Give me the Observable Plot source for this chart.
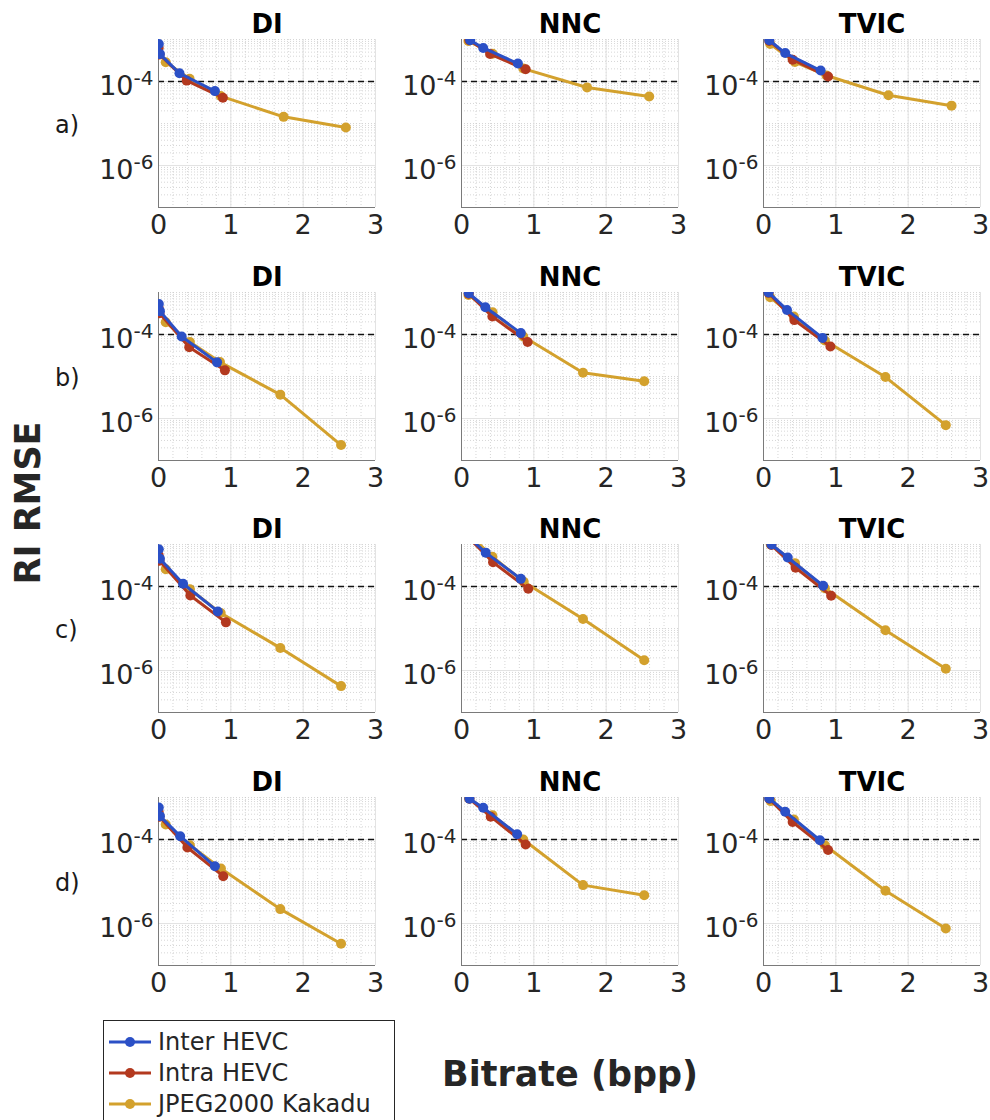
<!DOCTYPE html>
<html>
<head>
<meta charset="utf-8">
<script src="https://cdn.jsdelivr.net/npm/d3@7"></script>
<script src="https://cdn.jsdelivr.net/npm/@observablehq/plot@0.6"></script>
<style>
  html, body { margin: 0; padding: 0; background: #fff; }
  #root { position: relative; width: 990px; height: 1120px; overflow: hidden; background: #fff; font-family: "DejaVu Sans", sans-serif; }
  .panel { position: absolute; }
  .rowlab { position: absolute; font-size: 24px; color: #1a1a1a; transform: translateY(-50%); }
  .ylab { position: absolute; font-weight: bold; font-size: 35px; color: #262626; white-space: nowrap; transform-origin: center; }
  .xlab { position: absolute; font-weight: bold; font-size: 35px; color: #262626; white-space: nowrap; }
  #legend { position: absolute; left: 103px; top: 1020px; width: 290px; height: 120px; border: 1px solid #262626; background: #fff; }
  .legrow { position: absolute; left: 0; height: 30px; display: flex; align-items: center; font-size: 24px; color: #262626; white-space: nowrap; }
</style>
</head>
<body>
<div id="root"></div>
<script>
// ---------------- data ----------------
const rowLabels = ["a)", "b)", "c)", "d)"];
const methods = ["DI", "NNC", "TVIC"];
const seriesNames = ["Inter HEVC", "Intra HEVC", "JPEG2000 Kakadu"];
const xTicks = [0, 1, 2, 3];
const yLabelTicks = [1e-6, 1e-4];
const threshold = 1e-4;

// panels in row-major order: a-DI, a-NNC, a-TVIC, b-DI, ... ; each [bitrate (bpp), RI RMSE]
const interHEVC = [
  [[0.004, 7.8e-4], [0.02, 4.5e-4], [0.29, 1.57e-4], [0.78, 5.9e-5]],
  [[0.12, 9.6e-4], [0.30, 6.3e-4], [0.78, 2.67e-4]],
  [[0.08, 9.6e-4], [0.30, 4.75e-4], [0.79, 1.82e-4]],
  [[0.004, 5.3e-4], [0.02, 3.6e-4], [0.32, 9.0e-5], [0.81, 2.17e-5]],
  [[0.10, 9.6e-4], [0.33, 4.45e-4], [0.82, 1.08e-4]],
  [[0.07, 1.0e-3], [0.325, 3.85e-4], [0.815, 8.3e-5]],
  [[0.004, 7.7e-4], [0.02, 4.6e-4], [0.34, 1.16e-4], [0.82, 2.55e-5]],
  [[0.10, 1.5e-3], [0.335, 6.4e-4], [0.82, 1.52e-4]],
  [[0.11, 1.0e-3], [0.335, 4.9e-4], [0.825, 1.04e-4]],
  [[0.004, 5.8e-4], [0.02, 3.6e-4], [0.30, 1.2e-4], [0.78, 2.3e-5]],
  [[0.11, 9.4e-4], [0.30, 5.7e-4], [0.77, 1.34e-4]],
  [[0.08, 9.5e-4], [0.30, 4.6e-4], [0.78, 9.6e-5]]
];
const intraHEVC = [
  [[0.003, 6.3e-4], [0.015, 4.4e-4], [0.39, 1.05e-4], [0.89, 4.1e-5]],
  [[0.11, 9.6e-4], [0.395, 4.5e-4], [0.887, 1.95e-4]],
  [[0.08, 9.2e-4], [0.403, 3.3e-4], [0.893, 1.31e-4]],
  [[0.003, 4.2e-4], [0.014, 3.2e-4], [0.425, 5.0e-5], [0.918, 1.4e-5]],
  [[0.10, 9.4e-4], [0.427, 2.67e-4], [0.914, 6.6e-5]],
  [[0.07, 9.8e-4], [0.426, 2.2e-4], [0.925, 5.2e-5]],
  [[0.003, 5.5e-4], [0.014, 4.1e-4], [0.44, 6.1e-5], [0.932, 1.4e-5]],
  [[0.10, 1.45e-3], [0.436, 3.78e-4], [0.923, 8.8e-5]],
  [[0.11, 9.7e-4], [0.444, 2.8e-4], [0.935, 6.0e-5]],
  [[0.003, 4.5e-4], [0.014, 3.5e-4], [0.40, 6.45e-5], [0.895, 1.34e-5]],
  [[0.11, 9.3e-4], [0.404, 3.5e-4], [0.887, 7.6e-5]],
  [[0.08, 9.3e-4], [0.403, 2.6e-4], [0.893, 5.6e-5]]
];
const jpeg2000 = [
  [[0.10, 2.86e-4], [0.43, 1.16e-4], [0.86, 4.5e-5], [1.73, 1.44e-5], [2.59, 8.0e-6]],
  [[0.096, 9.2e-4], [0.43, 4.6e-4], [0.854, 2.03e-4], [1.736, 7.2e-5], [2.595, 4.4e-5]],
  [[0.092, 7.8e-4], [0.435, 2.9e-4], [0.87, 1.39e-4], [1.727, 4.7e-5], [2.60, 2.66e-5]],
  [[0.10, 1.96e-4], [0.434, 6.6e-5], [0.85, 2.2e-5], [1.684, 3.7e-6], [2.524, 2.33e-7]],
  [[0.096, 8.7e-4], [0.43, 3.4e-4], [0.854, 9.0e-5], [1.68, 1.23e-5], [2.526, 7.7e-6]],
  [[0.092, 7.7e-4], [0.42, 2.67e-4], [0.848, 7.2e-5], [1.686, 9.7e-6], [2.52, 6.95e-7]],
  [[0.10, 2.58e-4], [0.434, 8.6e-5], [0.86, 2.33e-5], [1.684, 3.45e-6], [2.524, 4.25e-7]],
  [[0.10, 1.8e-3], [0.427, 5.1e-4], [0.86, 1.3e-4], [1.68, 1.68e-5], [2.526, 1.76e-6]],
  [[0.10, 1.0e-3], [0.435, 3.6e-4], [0.848, 9.1e-5], [1.686, 9.1e-6], [2.52, 1.1e-6]],
  [[0.10, 2.28e-4], [0.434, 7.3e-5], [0.863, 2.04e-5], [1.684, 2.2e-6], [2.524, 3.3e-7]],
  [[0.106, 9.5e-4], [0.427, 3.8e-4], [0.854, 1.0e-4], [1.68, 8.2e-6], [2.526, 4.7e-6]],
  [[0.10, 8.2e-4], [0.42, 3.0e-4], [0.848, 7.3e-5], [1.686, 6.0e-6], [2.52, 7.6e-7]]
];

// ---------------- styling / layout ----------------
const seriesData = [interHEVC, intraHEVC, jpeg2000];
const seriesColors = ["#2b50c6", "#b3391f", "#d3a12d"];
const drawOrder = [2, 1, 0];
const colLeft = [88, 391, 693];
const rowTop = [-1, 252, 504, 757];
const M = { l: 70, r: 8, t: 40, b: 40 };
const PW = 217, PH = 168;

const yMinor = [];
for (let e = -7; e < -3; e++) for (let k = 1; k <= 9; k++) yMinor.push(k * Math.pow(10, e));
yMinor.push(1e-3);
const xMinor = d3.range(0, 3.0001, 0.2);

const root = document.getElementById("root");

function makePanel(p) {
  const r = Math.floor(p / 3), c = p % 3;
  const marks = [
    Plot.ruleY(yMinor, { stroke: "#c4c4c4", strokeDasharray: "1,2", strokeWidth: 0.7 }),
    Plot.ruleX(xMinor, { stroke: "#c4c4c4", strokeDasharray: "1,2", strokeWidth: 0.7 }),
    Plot.ruleY(yLabelTicks, { stroke: "#e3e3e3", strokeWidth: 1 }),
    Plot.ruleX(xTicks, { stroke: "#e3e3e3", strokeWidth: 1 }),
    Plot.ruleY([threshold], { stroke: "#111", strokeWidth: 1.6, strokeDasharray: "6,4" }),
    Plot.ruleX([0], { stroke: "#7a7a7a", strokeWidth: 1 }),
    Plot.ruleY([1e-7], { stroke: "#7a7a7a", strokeWidth: 1 }),
    Plot.axisX({ ticks: xTicks, tickSize: 0, tickPadding: 7, fontSize: 27, label: null, tickFormat: d => String(d) }),
    Plot.axisY({ ticks: yLabelTicks, tickSize: 0, tickPadding: 5, fontSize: 27, label: null, dy: 5,
      tickFormat: d => "10^" + Math.round(Math.log10(d)) }),
    Plot.text([methods[c]], { frameAnchor: "top", lineAnchor: "bottom", dy: -7, fontSize: 26, fontWeight: "bold", fill: "#000" })
  ];
  for (const si of drawOrder) {
    const pts = seriesData[si][p].map(([x, y]) => ({ x, y, series: seriesNames[si] }));
    marks.push(Plot.line(pts, { x: "x", y: "y", stroke: seriesColors[si], strokeWidth: 3, clip: true }));
    marks.push(Plot.dot(pts, { x: "x", y: "y", fill: seriesColors[si], r: 5, clip: true }));
  }
  const svg = Plot.plot({
    width: M.l + PW + M.r,
    height: M.t + PH + M.b,
    marginLeft: M.l, marginRight: M.r, marginTop: M.t, marginBottom: M.b,
    style: { fontFamily: "DejaVu Sans, sans-serif", color: "#262626", background: "transparent", overflow: "visible" },
    x: { domain: [0, 3] },
    y: { type: "log", domain: [1e-7, 1e-3] },
    marks
  });
  // superscript exponents on y tick labels
  d3.select(svg).selectAll('g[aria-label="y-axis tick label"] text').each(function () {
    const m = this.textContent.match(/^10\^(-?\d+)$/);
    if (m) {
      this.textContent = "10";
      d3.select(this).append("tspan").attr("dy", "-10").attr("font-size", "20px").text(m[1]);
    }
  });
  const div = document.createElement("div");
  div.className = "panel";
  div.style.left = colLeft[c] + "px";
  div.style.top = rowTop[r] + "px";
  div.appendChild(svg);
  root.appendChild(div);
}
for (let p = 0; p < 12; p++) makePanel(p);

// row labels
rowLabels.forEach((t, r) => {
  const d = document.createElement("div");
  d.className = "rowlab";
  d.textContent = t;
  d.style.left = "55px";
  d.style.top = (rowTop[r] + M.t + PH / 2 + 2) + "px";
  root.appendChild(d);
});

// axis titles
const yl = document.createElement("div");
yl.className = "ylab";
yl.textContent = "RI RMSE";
root.appendChild(yl);
const ylw = yl.getBoundingClientRect().width, ylh = yl.getBoundingClientRect().height;
yl.style.left = (28 - ylw / 2) + "px";
yl.style.top = (503 - ylh / 2) + "px";
yl.style.transform = "rotate(-90deg)";

const xl = document.createElement("div");
xl.className = "xlab";
xl.textContent = "Bitrate (bpp)";
xl.style.left = "442px";
xl.style.top = "1054px";
root.appendChild(xl);

// legend
const leg = document.createElement("div");
leg.id = "legend";
root.appendChild(leg);
seriesNames.forEach((name, i) => {
  const row = document.createElement("div");
  row.className = "legrow";
  row.style.top = (6 + i * 31) + "px";
  const sw = d3.create("svg").attr("width", 50).attr("height", 30).style("margin-left", "4px");
  sw.append("line").attr("x1", 1).attr("x2", 43).attr("y1", 15).attr("y2", 15)
    .attr("stroke", seriesColors[i]).attr("stroke-width", 3);
  sw.append("circle").attr("cx", 22).attr("cy", 15).attr("r", 5).attr("fill", seriesColors[i]);
  row.appendChild(sw.node());
  const t = document.createElement("span");
  t.textContent = name;
  row.appendChild(t);
  leg.appendChild(row);
});
</script>
</body>
</html>
